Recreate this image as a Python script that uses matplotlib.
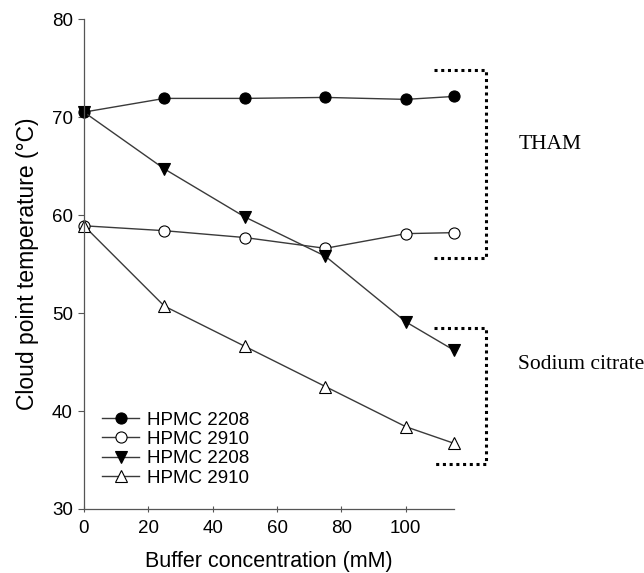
import matplotlib.pyplot as plt
import numpy as np

plt.rcParams['font.family'] = ['Liberation Sans', 'DejaVu Sans']

# buffer concentration, mM
conc = [0, 25, 50, 75, 100, 115]

# cloud point temperatures (deg C)
tham_2208 = [70.5, 71.9, 71.9, 72.0, 71.8, 72.1]
tham_2910 = [58.9, 58.4, 57.7, 56.6, 58.1, 58.2]
citrate_2208 = [70.5, 64.7, 59.8, 55.8, 49.1, 46.2]
citrate_2910 = [58.9, 50.7, 46.6, 42.5, 38.4, 36.7]

# bracket extents (x range and y range) for the two buffer groups
tham_bracket = (108.8, 125, 55.6, 74.8)
citrate_bracket = (108.8, 125, 34.6, 48.5)


def cloud_point_plot():
    fig = plt.figure(figsize=(6.44, 5.73), dpi=100)
    ax = fig.add_axes([0.1304, 0.1117, 0.5746, 0.8551])

    line_kw = dict(color='#3a3a3a', linewidth=1.0, markersize=8,
                   markeredgecolor='black', markeredgewidth=0.8, clip_on=False)

    ax.plot(conc, tham_2208, marker='o', markerfacecolor='black',
            label='HPMC 2208', **line_kw)
    ax.plot(conc, tham_2910, marker='o', markerfacecolor='white',
            label='HPMC 2910', **line_kw)
    ax.plot(conc, citrate_2208, marker='v', markerfacecolor='black',
            label='HPMC 2208', **line_kw)
    ax.plot(conc, citrate_2910, marker='^', markerfacecolor='white',
            label='HPMC 2910', **line_kw)

    # dotted brackets outside the data area
    for x0, x1, y0, y1 in (tham_bracket, citrate_bracket):
        ax.plot([x0, x1, x1, x0], [y1, y1, y0, y0], color='black',
                linestyle=(0, (1, 1.2)), linewidth=2.2, clip_on=False)

    ax.text(135, 67.2, 'THAM', fontfamily='Liberation Serif', fontsize=15.5,
            va='center', ha='left')
    ax.text(135, 44.7, 'Sodium citrate', fontfamily='Liberation Serif',
            fontsize=15.5, va='center', ha='left')

    ax.set_xlim(0, 115)
    ax.set_ylim(30, 80)
    ax.set_xticks([0, 20, 40, 60, 80, 100])
    ax.set_yticks([30, 40, 50, 60, 70, 80])
    ax.tick_params(axis='x', direction='inout', length=4, width=0.8,
                   labelsize=13.5, pad=6, colors='#555555', labelcolor='black')
    ax.tick_params(axis='y', direction='out', length=4, width=0.8,
                   labelsize=13.5, pad=4, colors='#555555', labelcolor='black')

    for side in ('top', 'right'):
        ax.spines[side].set_visible(False)
    for side in ('left', 'bottom'):
        ax.spines[side].set_color('#555555')
        ax.spines[side].set_linewidth(0.9)

    ax.set_xlabel('Buffer concentration (mM)', fontsize=15.5, labelpad=10)
    ax.set_ylabel('Cloud point temperature (\u00b0C)', fontsize=16.5, labelpad=9)

    ax.legend(loc='lower left', bbox_to_anchor=(0.028, 0.03), frameon=False,
              fontsize=13.5, handlelength=2.0, handletextpad=0.4,
              labelspacing=0.12, borderaxespad=0)

    fig.savefig('out.png', dpi=100)


if __name__ == '__main__':
    cloud_point_plot()
